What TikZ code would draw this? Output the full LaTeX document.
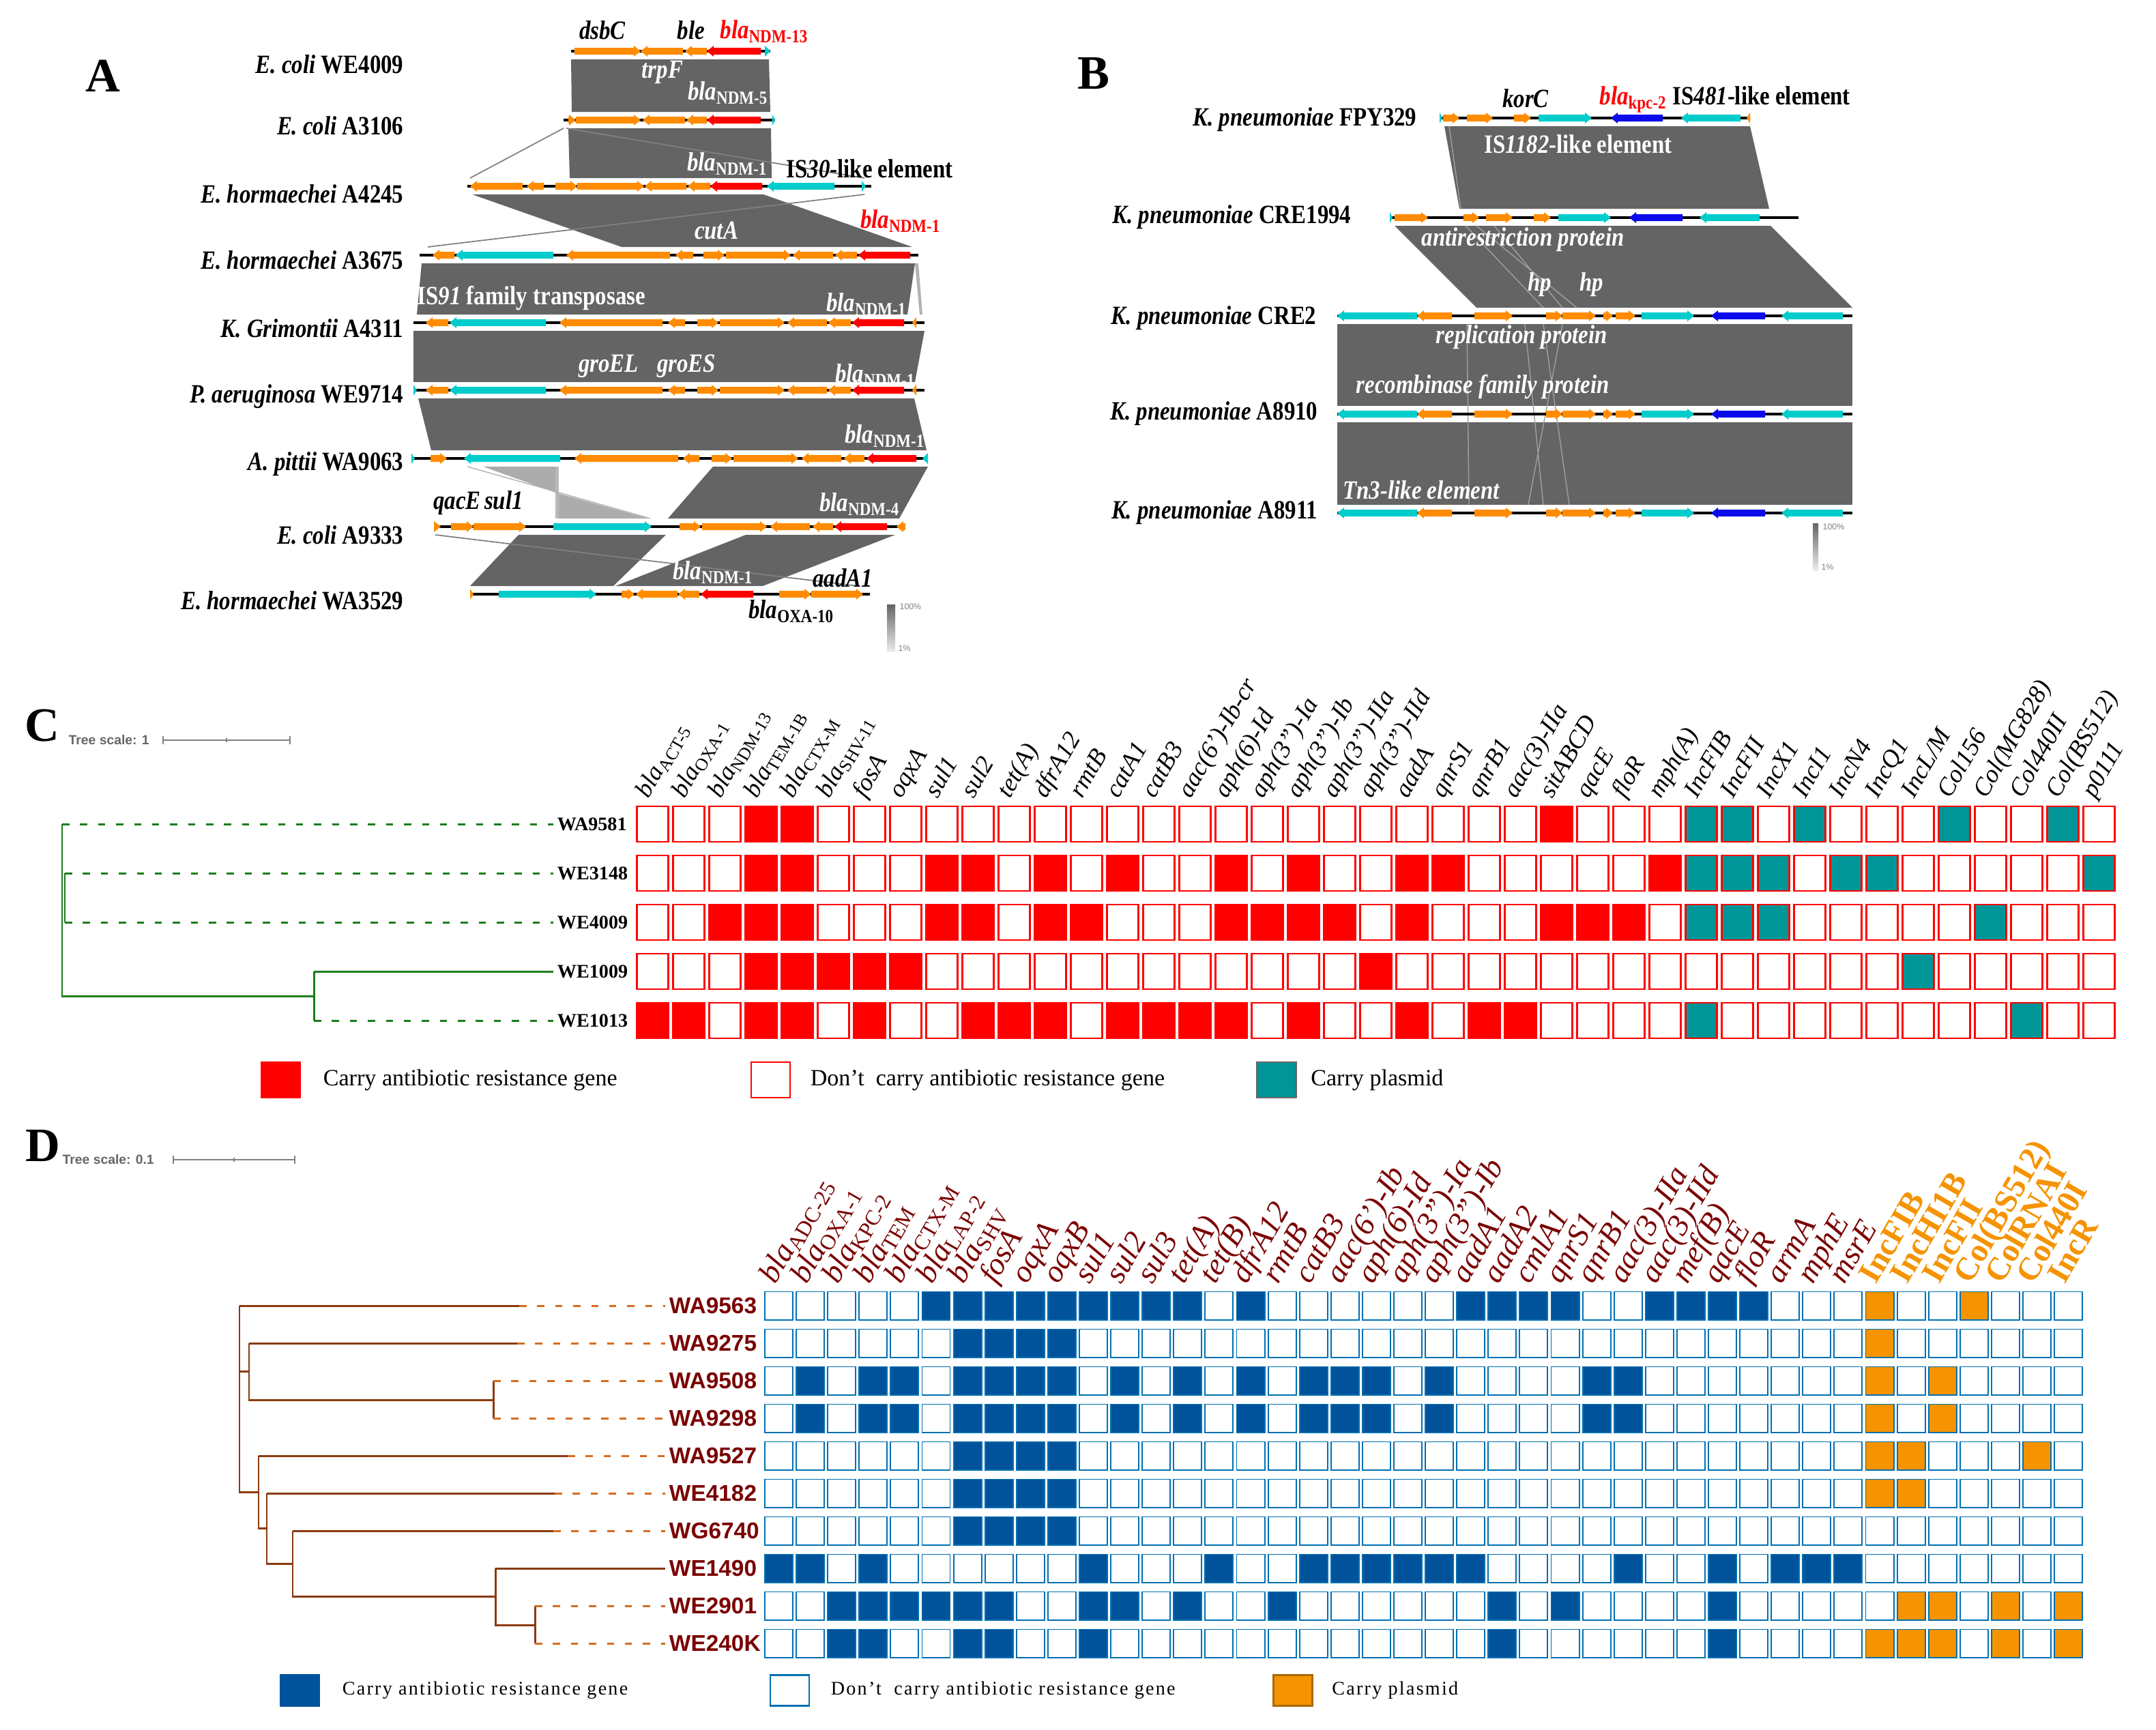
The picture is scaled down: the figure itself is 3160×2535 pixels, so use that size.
\documentclass[tikz,border=0pt]{standalone}
\usepackage{fontspec}
\setmainfont{Liberation Serif}
\setsansfont{Liberation Sans}
\usetikzlibrary{positioning}

\definecolor{gOr}{RGB}{255,140,0}
\definecolor{gCy}{RGB}{0,204,204}
\definecolor{gRd}{RGB}{255,0,0}
\definecolor{gBl}{RGB}{10,10,235}
\definecolor{bandgray}{RGB}{100,100,100}
\definecolor{cellred}{RGB}{255,0,0}
\definecolor{cellteal}{RGB}{0,150,152}
\definecolor{cellblue}{RGB}{0,83,155}
\definecolor{celledge}{RGB}{0,112,178}
\definecolor{cellorange}{RGB}{245,147,0}
\definecolor{treegreen}{RGB}{28,125,28}
\definecolor{treebrown}{RGB}{138,58,14}
\definecolor{treedash}{RGB}{214,108,30}
\definecolor{labmaroon}{RGB}{122,0,0}

\newcommand{\blagene}[1]{\textit{bla}\textsubscript{\upshape #1}}
% gene arrows: x1, x2, y, colour
\newcommand{\geneR}[4]{\fill[#4] (#1,#3-5) -- ({max(#1,#2-10)},#3-5) -- ({max(#1,#2-10)},#3-8) -- (#2,#3) -- ({max(#1,#2-10)},#3+8) -- ({max(#1,#2-10)},#3+5) -- (#1,#3+5) -- cycle;}
\newcommand{\geneL}[4]{\fill[#4] (#2,#3-5) -- ({min(#2,#1+10)},#3-5) -- ({min(#2,#1+10)},#3-8) -- (#1,#3) -- ({min(#2,#1+10)},#3+8) -- ({min(#2,#1+10)},#3+5) -- (#2,#3+5) -- cycle;}

\begin{document}
\begin{tikzpicture}[x=0.01cm, y=-0.01cm,
    % gene maps
    track/.style={line width=0.9pt},
    band/.style={fill=bandgray},
    strain/.style={anchor=east, inner sep=0pt, xscale=0.85, font=\fontsize{11}{13}\selectfont\bfseries},
    genelab/.style={inner sep=0pt, xscale=0.85, font=\fontsize{11}{13}\selectfont\bfseries\itshape},
    bandlab/.style={genelab, text=white},
    islab/.style={inner sep=0pt, xscale=0.85, font=\fontsize{11}{13}\selectfont\bfseries},
    panellab/.style={inner sep=0pt, font=\fontsize{20}{22}\selectfont\bfseries},
    pct/.style={inner sep=0pt, anchor=west, text=gray, font=\fontsize{3.5}{4}\selectfont\sffamily},
    % heat maps
    scalelab/.style={inner sep=0pt, anchor=west, text=gray!80!black, font=\fontsize{5.5}{6}\selectfont\sffamily\bfseries},
    hdrC/.style={rotate=60, anchor=base west, inner sep=0pt, font=\fontsize{10.5}{12}\selectfont\itshape},
    hdrD/.style={rotate=60, anchor=base west, inner sep=0pt, text=labmaroon, font=\fontsize{13}{14}\selectfont\itshape},
    hdrP/.style={rotate=60, anchor=base west, inner sep=0pt, text=cellorange, font=\fontsize{13.5}{14}\selectfont\bfseries},
    cellC/.style={draw=cellred, line width=0.6pt, minimum width=0.46cm, minimum height=0.52cm, inner sep=0pt},
    cellD/.style={draw=celledge, line width=0.55pt, minimum width=0.41cm, minimum height=0.41cm, inner sep=0pt},
    rowC/.style={anchor=west, inner sep=1.5pt, font=\fontsize{8}{9}\selectfont\bfseries},
    rowD/.style={anchor=west, inner sep=1.5pt, text=labmaroon, font=\fontsize{9.5}{10}\selectfont\sffamily\bfseries},
    brC/.style={treegreen, line width=0.85pt},
    dsC/.style={treegreen, line width=0.85pt, dash pattern=on 3pt off 4.5pt},
    brD/.style={treebrown, line width=0.85pt},
    dsD/.style={treedash, line width=0.85pt, dash pattern=on 3pt off 4.5pt},
    legC/.style={minimum width=0.57cm, minimum height=0.52cm, inner sep=0pt, line width=0.6pt},
    legD/.style={minimum width=0.57cm, minimum height=0.45cm, inner sep=0pt, line width=0.6pt},
    legtxtC/.style={inner sep=0pt, font=\fontsize{9.7}{11}\selectfont},
    legtxtD/.style={inner sep=0pt, font=\fontsize{8}{9}\selectfont\addfontfeature{LetterSpace=8}}
  ]
  \useasboundingbox (0,0) rectangle (3160,2535);

  % ---------------- A ----------------
  \node[panellab] (pA) at (151,111) {A};
  \fill[band] (837,87) -- (1127,87) -- (1129,164) -- (838,164) -- cycle;
  \fill[band] (833,188) -- (1130,188) -- (1131,261) -- (835,261) -- cycle;
  \draw[gray, line width=0.5pt] (826,188) -- (689,261);
  \draw[gray, line width=0.5pt] (830,188) -- (1267,261);
  \fill[band] (692,285) -- (1119,285) -- (1337,362) -- (911,362) -- cycle;
  \draw[gray, line width=0.5pt] (1267,285) -- (627,362);
  \fill[band] (618,386) -- (1341,386) -- (1330,461) -- (611,461) -- cycle;
  \fill[gray!60] (1341,386) -- (1346,386) -- (1352,461) -- (1348,461) -- cycle;
  \fill[band] (606,485) -- (1355,485) -- (1341,560) -- (606,560) -- cycle;
  \fill[band] (613,584) -- (1340,584) -- (1358,660) -- (632,660) -- cycle;
  \fill[band] (1045,684) -- (1360,684) -- (1318,760) -- (979,760) -- cycle;
  \fill[gray!65] (708,684) -- (819,684) -- (814,722) -- cycle;
  \fill[gray!65] (814,722) -- (819,760) -- (950,760) -- cycle;
  \fill[gray!55] (814,684) -- (819,684) -- (819,760) -- (814,760) -- cycle;
  \draw[gray!60, line width=0.4pt] (685,684) -- (953,760);
  \fill[band] (760,784) -- (976,784) -- (899,859) -- (689,859) -- cycle;
  \fill[band] (1093,784) -- (1312,784) -- (1118,859) -- (902,859) -- cycle;
  \draw[gray, line width=0.5pt] (638,784) -- (1258,859);

  \draw[track] (837,75) -- (1129,75);
  \foreach \a/\b/\d/\cl in {842/939/R/gOr,939/1001/L/gOr,1004/1036/L/gOr,1036/1115/L/gRd,1121/1129/R/gCy}{\csname gene\d\endcsname{\a}{\b}{75}{\cl}}
  \draw[track] (826,176) -- (1136,176);
  \foreach \a/\b/\d/\cl in {833/844/R/gOr,844/939/R/gOr,942/1004/L/gOr,1006/1036/L/gOr,1036/1115/L/gRd,1132/1136/R/gCy}{\csname gene\d\endcsname{\a}{\b}{176}{\cl}}
  \draw[track] (685,273) -- (1277,273);
  \foreach \a/\b/\d/\cl in {689/766/L/gOr,772/797/L/gOr,814/846/R/gOr,846/944/R/gOr,945/1006/L/gOr,1008/1041/L/gOr,1041/1117/L/gRd,1124/1223/L/gCy,1263/1269/R/gCy}{\csname gene\d\endcsname{\a}{\b}{273}{\cl}}
  \draw[track] (615,374) -- (1346,374);
  \foreach \a/\b/\d/\cl in {634/666/L/gOr,668/811/L/gCy,830/982/L/gOr,990/1016/L/gOr,1031/1062/R/gOr,1064/1159/R/gOr,1162/1221/L/gOr,1224/1256/L/gOr,1258/1334/L/gRd}{\csname gene\d\endcsname{\a}{\b}{374}{\cl}}
  \foreach \ty in {473,572}{
    \draw[track] (606,\ty) -- (1355,\ty);
    \foreach \a/\b/\d/\cl in {624/657/L/gOr,659/800/L/gCy,820/971/L/gOr,979/1004/L/gOr,1022/1053/R/gOr,1055/1150/R/gOr,1154/1212/L/gOr,1214/1247/L/gOr,1249/1325/L/gRd,1337/1343/L/gOr}{\csname gene\d\endcsname{\a}{\b}{\ty}{\cl}}
  }
  \geneR{606}{611}{572}{gCy}
  \draw[track] (603,672) -- (1360,672);
  \foreach \a/\b/\d/\cl in {603/608/R/gCy,631/655/R/gOr,680/821/L/gCy,842/994/L/gOr,1001/1025/L/gOr,1043/1073/R/gOr,1075/1170/R/gOr,1175/1233/L/gOr,1237/1267/L/gOr,1270/1343/L/gRd,1352/1360/L/gCy}{\csname gene\d\endcsname{\a}{\b}{672}{\cl}}
  \draw[track] (636,772) -- (1327,772);
  \foreach \a/\b/\d/\cl in {636/646/R/gOr,661/694/R/gOr,694/771/R/gOr,811/955/R/gCy,996/1027/R/gOr,1029/1124/R/gOr,1129/1187/L/gOr,1191/1221/L/gOr,1223/1300/L/gRd,1314/1327/L/gOr}{\csname gene\d\endcsname{\a}{\b}{772}{\cl}}
  \draw[track] (689,871) -- (1275,871);
  \foreach \a/\b/\d/\cl in {689/694/R/gOr,731/874/R/gCy,911/930/R/gOr,932/993/L/gOr,994/1025/L/gOr,1027/1104/L/gRd,1142/1189/R/gOr,1189/1265/R/gOr}{\csname gene\d\endcsname{\a}{\b}{871}{\cl}}

  \node[strain] (sA1) at (592,94) {\textit{E. coli} WE4009};
  \node[strain] (sA2) at (592,184) {\textit{E. coli} A3106};
  \node[strain] (sA3) at (592,284) {\textit{E. hormaechei} A4245};
  \node[strain] (sA4) at (592,381) {\textit{E. hormaechei} A3675};
  \node[strain] (sA5) at (592,481) {\textit{K. Grimontii} A4311};
  \node[strain] (sA6) at (592,581) {\textit{P. aeruginosa} WE9714};
  \node[strain] (sA7) at (592,680) {\textit{A. pittii} WA9063};
  \node[strain] (sA8) at (592,784) {\textit{E. coli} A9333};
  \node[strain] (sA9) at (592,880) {\textit{E. hormaechei} WA3529};

  \node[genelab] (gA1) at (883,44) {dsbC};
  \node[genelab] (gA2) at (1013,44) {ble};
  \node[genelab, text=gRd, anchor=west] (gA3) at (1055,46) {\blagene{NDM-13}};
  \node[bandlab] (gA4) at (971,106) {trpF};
  \node[bandlab] (gA5) at (1067,136) {\blagene{NDM-5}};
  \node[bandlab] (gA6) at (1066,240) {\blagene{NDM-1}};
  \node[islab, anchor=west] (gA7) at (1152,247) {IS\textit{30}-like element};
  \node[bandlab] (gA8) at (1050,338) {cutA};
  \node[genelab, text=gRd] (gA9) at (1320,324) {\blagene{NDM-1}};
  \node[islab, text=white, anchor=west] (gA10) at (611,437) {IS\textit{91} family transposase};
  \node[bandlab] (gA11) at (1270,446) {\blagene{NDM-1}};
  \node[bandlab] (gA12) at (892,537) {groEL};
  \node[bandlab] (gA13) at (1006,537) {groES};
  \node[bandlab] (gA14) at (1283,550) {\blagene{NDM-1}};
  \node[bandlab] (gA15) at (1297,639) {\blagene{NDM-1}};
  \node[genelab] (gA16) at (701,737) {qacE\,sul1};
  \node[bandlab] (gA17) at (1260,739) {\blagene{NDM-4}};
  \node[bandlab] (gA18) at (1045,839) {\blagene{NDM-1}};
  \node[genelab] (gA19) at (1235,847) {aadA1};
  \node[genelab] (gA20) at (1160,896) {\blagene{OXA-10}};
  \shade[top color=bandgray, bottom color=gray!15] (1300,886) rectangle (1312,955);
  \node[pct] (pcA1) at (1318,889) {100\%};
  \node[pct] (pcA2) at (1316,950) {1\%};

  % ---------------- B ----------------
  \node[panellab] (pB) at (1603,108) {B};
  \fill[band] (2117,185) -- (2565,185) -- (2593,306) -- (2139,306) -- cycle;
  \fill[band] (2044,331) -- (2595,331) -- (2715,451) -- (2164,451) -- cycle;
  \fill[band] (1960,475) rectangle (2715,595);
  \fill[band] (1960,619) rectangle (2715,740);
  \draw[gray!75, line width=0.4pt] (2124,185) -- (2141,306);
  \draw[gray!75, line width=0.4pt] (2148,331) -- (2262,451) (2164,331) -- (2311,451) (2190,331) -- (2290,451);
  \draw[gray!75, line width=0.4pt] (2150,475) -- (2153,740) (2235,475) -- (2262,740) (2290,475) -- (2240,740) (2262,475) -- (2300,740);

  \draw[track] (2110,173) -- (2565,173);
  \foreach \a/\b/\d/\cl in {2110/2114/R/gCy,2115/2139/R/gOr,2150/2188/R/gOr,2219/2244/R/gOr,2255/2333/R/gCy,2361/2437/L/gBl,2464/2551/L/gCy,2560/2565/L/gOr}{\csname gene\d\endcsname{\a}{\b}{173}{\cl}}
  \draw[track] (2037,319) -- (2636,319);
  \foreach \a/\b/\d/\cl in {2037/2041/R/gCy,2044/2093/R/gOr,2145/2168/R/gOr,2178/2217/R/gOr,2248/2273/R/gOr,2284/2361/R/gCy,2388/2466/L/gBl,2491/2579/L/gCy}{\csname gene\d\endcsname{\a}{\b}{319}{\cl}}
  \foreach \ty in {463,607,752}{
    \draw[track] (1960,\ty) -- (2715,\ty);
    \foreach \a/\b/\d/\cl in {1960/2077/L/gCy,2077/2128/L/gOr,2161/2217/R/gOr,2266/2290/R/gOr,2290/2339/R/gOr,2350/2364/R/gOr,2368/2397/R/gOr,2406/2483/R/gCy,2508/2587/L/gBl,2611/2701/L/gCy}{\csname gene\d\endcsname{\a}{\b}{\ty}{\cl}}
  }

  \node[strain] (sB1) at (2077,175) {\textit{K. pneumoniae} FPY329};
  \node[strain] (sB2) at (1981,318) {\textit{K. pneumoniae} CRE1994};
  \node[strain] (sB3) at (1930,466) {\textit{K. pneumoniae} CRE2};
  \node[strain] (sB4) at (1932,606) {\textit{K. pneumoniae} A8910};
  \node[strain] (sB5) at (1932,751) {\textit{K. pneumoniae} A8911};
  \node[genelab] (gB1) at (2236,144) {korC};
  \node[genelab, text=gRd, anchor=west] (gB2) at (2344,146) {\blagene{kpc-2}};
  \node[islab, anchor=west] (gB3) at (2451,140) {IS\textit{481}-like element};
  \node[islab, text=white, anchor=west] (gB4) at (2175,211) {IS\textit{1182}-like element};
  \node[bandlab, anchor=west] (gB5) at (2083,351) {antirestriction protein};
  \node[bandlab] (gB6) at (2257,417) {hp};
  \node[bandlab] (gB7) at (2333,417) {hp};
  \node[bandlab, anchor=west] (gB8) at (2104,494) {replication protein};
  \node[bandlab, anchor=west] (gB9) at (1987,567) {recombinase family protein};
  \node[bandlab, anchor=west] (gB10) at (1968,718) {Tn3-like element};
  \shade[top color=bandgray, bottom color=gray!15] (2657,767) rectangle (2665,836);
  \node[pct] (pcB1) at (2671,772) {100\%};
  \node[pct] (pcB2) at (2669,831) {1\%};

  % ---------------- C ----------------
  \node[panellab] (pC) at (62,1064) {C};
  \node[scalelab] (scC) at (100,1085) {Tree scale: 1};
  \draw[gray, line width=0.5pt] (239,1085) -- (425,1085) (239,1079) -- (239,1091) (332,1082) -- (332,1088) (425,1079) -- (425,1091);

  \foreach \hh [count=\cc] in {{\blagene{ACT-5}},{\blagene{OXA-1}},{\blagene{NDM-13}},{\blagene{TEM-1B}},{\blagene{CTX-M}},{\blagene{SHV-11}},fosA,oqxA,sul1,sul2,tet(A),dfrA12,rmtB,catA1,catB3,aac(6')-Ib-cr,aph(6)-Id,aph(3'')-Ia,aph(3'')-Ib,aph(3'')-IIa,aph(3'')-IId,aadA,qnrS1,qnrB1,aac(3)-IIa,sitABCD,qacE,floR,mph(A),IncFIB,IncFII,IncX1,IncI1,IncN4,IncQ1,{IncL/M},Col156,Col(MG828),Col440II,Col(BS512),p0111}
    \node[hdrC] (hC\cc) at ({950+53*(\cc-1)},1172) {\hh};

  \foreach \lab/\vals [count=\rr] in {
      WA9581/{0,0,0,1,1,0,0,0,0,0,0,0,0,0,0,0,0,0,0,0,0,0,0,0,0,1,0,0,0,2,2,0,2,0,0,0,2,0,0,2,0},
      WE3148/{0,0,0,1,1,0,0,0,1,1,0,1,0,1,0,0,1,0,1,0,0,1,1,0,0,0,0,0,1,2,2,2,0,2,2,0,0,0,0,0,2},
      WE4009/{0,0,1,1,1,0,0,0,1,1,0,1,1,0,0,0,1,1,1,1,0,1,0,0,0,1,1,1,0,2,2,2,0,0,0,0,0,2,0,0,0},
      WE1009/{0,0,0,1,1,1,1,1,0,0,0,0,0,0,0,0,0,0,0,0,1,0,0,0,0,0,0,0,0,0,0,0,0,0,0,2,0,0,0,0,0},
      WE1013/{1,1,0,1,1,0,1,0,0,1,1,1,0,1,1,1,1,0,1,0,0,1,0,1,1,0,0,0,0,2,0,0,0,0,0,0,0,0,2,0,0}}{
    \node[rowC] (lC\rr) at (811,{1208+72*(\rr-1)}) {\lab};
    \foreach \vv [count=\cc] in \vals {
      \ifcase\vv \def\cf{white}\or \def\cf{cellred}\or \def\cf{cellteal}\fi
      \node[cellC, fill=\cf] (mC\rr-\cc) at ({956.5+53*(\cc-1)},{1208+72*(\rr-1)}) {};
    }
  }

  \coordinate (nC0) at (91,1208);
  \coordinate (nC1) at (91,1460);
  \coordinate (nC2) at (460,1424);
  \coordinate (nC3) at (460,1496);
  \coordinate (nC4) at (95,1280);
  \coordinate (nC5) at (95,1352);
  \draw[brC] (nC0) -- (nC1) -- (nC1 -| nC2);
  \draw[brC] (nC2) -- (nC3);
  \draw[brC] (nC4) -- (nC5);
  \draw[dsC] (nC0) -- (lC1.west);
  \draw[dsC] (nC4) -- (lC2.west);
  \draw[dsC] (nC5) -- (lC3.west);
  \draw[brC] (nC2) -- (lC4.west);
  \draw[dsC] (nC3) -- (lC5.west);

  \node[legC, fill=cellred, draw=cellred] (kC1) at (411.5,1583) {};
  \node[legtxtC, right=0.32cm of kC1] (tC1) {Carry antibiotic resistance gene};
  \node[legC, fill=white, draw=cellred] (kC2) at (1129.5,1583) {};
  \node[legtxtC, right=0.28cm of kC2] (tC2) {Don’t~ carry antibiotic resistance gene};
  \node[legC, fill=cellteal, draw=black!60] (kC3) at (1871,1583) {};
  \node[legtxtC, right=0.2cm of kC3] (tC3) {Carry plasmid};

  % ---------------- D ----------------
  \node[panellab] (pD) at (63,1680) {D};
  \node[scalelab] (scD) at (91,1700) {Tree scale: 0.1};
  \draw[gray, line width=0.5pt] (254,1700) -- (432,1700) (254,1694) -- (254,1706) (343,1697) -- (343,1703) (432,1694) -- (432,1706);

  \foreach \hh [count=\cc] in {{\blagene{ADC-25}},{\blagene{OXA-1}},{\blagene{KPC-2}},{\blagene{TEM}},{\blagene{CTX-M}},{\blagene{LAP-2}},{\blagene{SHV}},fosA,oqxA,oqxB,sul1,sul2,sul3,tet(A),tet(B),dfrA12,rmtB,catB3,aac(6')-Ib,aph(6)-Id,aph(3'')-Ia,aph(3'')-Ib,aadA1,aadA2,cmlA1,qnrS1,qnrB1,aac(3)-IIa,aac(3)-IId,mef(B),qacE,floR,armA,mphE,msrE}
    \node[hdrD] (hD\cc) at ({1136+46.1*(\cc-1)},1884) {\hh};
  \foreach \hh [count=\cc from 36] in {IncFIB,IncHI1B,IncFII,Col(BS512),ColRNAI,Col440I,IncR}
    \node[hdrP] (hD\cc) at ({1136+46.1*(\cc-1)},1884) {\hh};

  \foreach \lab/\vals [count=\rr] in {
      WA9563/{0,0,0,0,0,1,1,1,1,1,1,1,1,1,0,1,0,0,0,0,0,0,1,1,1,1,0,0,1,1,1,1,0,0,0,2,0,0,2,0,0,0},
      WA9275/{0,0,0,0,0,0,1,1,1,1,0,0,0,0,0,0,0,0,0,0,0,0,0,0,0,0,0,0,0,0,0,0,0,0,0,2,0,0,0,0,0,0},
      WA9508/{0,1,0,1,1,0,1,1,1,1,0,1,0,1,0,1,0,1,1,1,0,1,0,0,0,0,1,1,0,0,0,0,0,0,0,2,0,2,0,0,0,0},
      WA9298/{0,1,0,1,1,0,1,1,1,1,0,1,0,1,0,1,0,1,1,1,0,1,0,0,0,0,1,1,0,0,0,0,0,0,0,2,0,2,0,0,0,0},
      WA9527/{0,0,0,0,0,0,1,1,1,1,0,0,0,0,0,0,0,0,0,0,0,0,0,0,0,0,0,0,0,0,0,0,0,0,0,2,2,0,0,0,2,0},
      WE4182/{0,0,0,0,0,0,1,1,1,1,0,0,0,0,0,0,0,0,0,0,0,0,0,0,0,0,0,0,0,0,0,0,0,0,0,2,2,0,0,0,0,0},
      WG6740/{0,0,0,0,0,0,1,1,1,1,0,0,0,0,0,0,0,0,0,0,0,0,0,0,0,0,0,0,0,0,0,0,0,0,0,0,0,0,0,0,0,0},
      WE1490/{1,1,0,1,0,0,0,0,0,0,1,0,0,0,1,0,0,1,1,1,1,1,1,0,0,0,0,1,0,0,1,0,1,1,1,0,0,0,0,0,0,0},
      WE2901/{0,0,1,1,1,1,1,1,0,0,1,1,0,1,0,0,1,0,0,0,0,0,0,1,0,1,0,0,0,0,1,0,0,0,0,0,2,2,0,2,0,2},
      WE240K/{0,0,1,1,0,0,1,1,0,0,1,0,0,0,0,0,0,0,0,0,0,0,0,1,0,0,0,0,0,0,1,0,0,0,0,2,2,2,0,2,0,2}}{
    \node[rowD] (lD\rr) at (975,{1914+55*(\rr-1)}) {\lab};
    \foreach \vv [count=\cc] in \vals {
      \ifcase\vv \def\cf{white}\or \def\cf{cellblue}\or \def\cf{cellorange}\fi
      \node[cellD, fill=\cf] (mD\rr-\cc) at ({1141.5+46.1*(\cc-1)},{1914+55*(\rr-1)}) {};
    }
  }

  \coordinate (nD0) at (351,1914);
  \coordinate (nD1) at (351,2187);
  \coordinate (nDa) at (365,2010);
  \coordinate (nDa1) at (365,1969);
  \coordinate (nDa2) at (365,2052);
  \coordinate (nDb) at (723,2024);
  \coordinate (nDb2) at (723,2079);
  \coordinate (nDc1) at (379,2134);
  \coordinate (nDc2) at (379,2240);
  \coordinate (nDd1) at (391,2189);
  \coordinate (nDd2) at (391,2292);
  \coordinate (nDe1) at (429,2244);
  \coordinate (nDe2) at (429,2340);
  \coordinate (nDf1) at (726,2299);
  \coordinate (nDf2) at (726,2382);
  \coordinate (nDg1) at (784,2354);
  \coordinate (nDg2) at (784,2409);
  \draw[brD] (nD0) -- (nD1) -- (nD1 -| nDc1);
  \draw[brD] (nDa -| nD0) -- (nDa);
  \draw[brD] (nDa1) -- (nDa2) -- (nDa2 -| nDb);
  \draw[brD] (nDb) -- (nDb2);
  \draw[brD] (nDc1) -- (nDc2) -- (nDc2 -| nDd1);
  \draw[brD] (nDd1) -- (nDd2) -- (nDd2 -| nDe1);
  \draw[brD] (nDe1) -- (nDe2) -- (nDe2 -| nDf1);
  \draw[brD] (nDf1) -- (nDf2) -- (nDf2 -| nDg1);
  \draw[brD] (nDg1) -- (nDg2);
  \draw[brD] (nD0) -- (761,1914);
  \draw[dsD] (761,1914) -- (lD1.west);
  \draw[brD] (nDa1) -- (758,1969);
  \draw[dsD] (758,1969) -- (lD2.west);
  \draw[dsD] (nDb) -- (lD3.west);
  \draw[dsD] (nDb2) -- (lD4.west);
  \draw[brD] (nDc1) -- (832,2134);
  \draw[dsD] (832,2134) -- (lD5.west);
  \draw[brD] (nDd1) -- (813,2189);
  \draw[dsD] (813,2189) -- (lD6.west);
  \draw[brD] (nDe1) -- (811,2244);
  \draw[dsD] (811,2244) -- (lD7.west);
  \draw[brD] (nDf1) -- (lD8.west);
  \draw[dsD] (nDg1) -- (lD9.west);
  \draw[dsD] (nDg2) -- (lD10.west);

  \node[legD, fill=cellblue, draw=cellblue] (kD1) at (439.5,2478) {};
  \node[legtxtD, right=0.32cm of kD1] (tD1) {Carry antibiotic resistance gene};
  \node[legD, fill=white, draw=celledge] (kD2) at (1157.5,2478) {};
  \node[legtxtD, right=0.3cm of kD2] (tD2) {Don’t~ carry antibiotic resistance gene};
  \node[legD, fill=cellorange, draw=cellorange!70!black] (kD3) at (1895,2478) {};
  \node[legtxtD, right=0.27cm of kD3] (tD3) {Carry plasmid};
\end{tikzpicture}
\end{document}
